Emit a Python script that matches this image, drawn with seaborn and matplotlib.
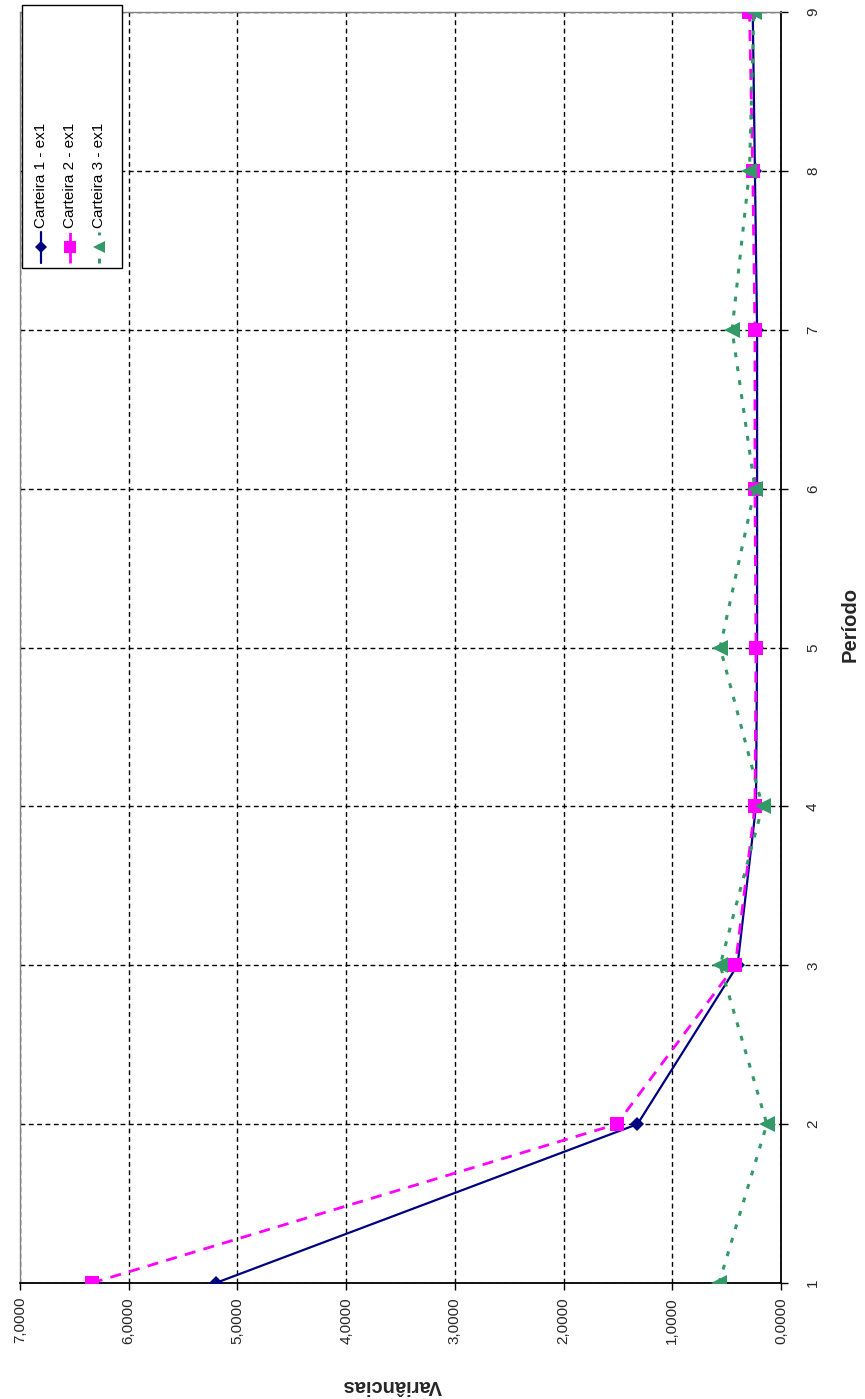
import matplotlib
matplotlib.use("Agg")
import matplotlib.pyplot as plt
import seaborn as sns
import pandas as pd
from matplotlib.ticker import FuncFormatter, MultipleLocator
from matplotlib.lines import Line2D
from matplotlib.patches import Rectangle

# ---- data ----
periodos = [1, 2, 3, 4, 5, 6, 7, 8, 9]
carteira1 = [5.20, 1.32, 0.40, 0.23, 0.22, 0.22, 0.22, 0.24, 0.26]
carteira2 = [6.34, 1.51, 0.42, 0.24, 0.23, 0.24, 0.24, 0.26, 0.29]
carteira3 = [0.57, 0.13, 0.56, 0.17, 0.56, 0.24, 0.45, 0.29, 0.25]
series_names = ["Carteira 1 - ex1", "Carteira 2 - ex1", "Carteira 3 - ex1"]
x_label = "Período"
y_label = "Variâncias"

sns.set_theme(style="white")
plt.rcParams["font.family"] = ["Liberation Sans", "DejaVu Sans"]

W, H = 865, 1399
fig = plt.figure(figsize=(W / 100, H / 100), dpi=100)
L, R, T, B = 20, 781, 12, 1283
ax = fig.add_axes([L / W, 1 - B / H, (R - L) / W, (B - T) / H])

styles = [
    dict(color="#000080", marker="D", markersize=7.5, linestyle="-", linewidth=1.6),
    dict(color="#FF00FF", marker="s", markersize=10, linestyle=(0, (4, 3)), linewidth=2),
    dict(color="#339966", marker="<", markersize=11, linestyle=(0, (1.6, 3)), linewidth=2.2),
]
for name, vals, st in zip(series_names, [carteira1, carteira2, carteira3], styles):
    df = pd.DataFrame({"var": vals, "per": periodos})
    sns.lineplot(data=df, x="var", y="per", estimator=None, sort=False, ax=ax,
                 markeredgewidth=0, zorder=3, **st)

ax.set_xlim(7, 0)
ax.set_ylim(1, 9)
ax.xaxis.set_major_locator(MultipleLocator(1))
ax.yaxis.set_major_locator(MultipleLocator(1))
ax.xaxis.set_major_formatter(FuncFormatter(lambda v, p: f"{v:.4f}".replace(".", ",")))
ax.grid(True, color="black", linestyle=(0, (3.5, 2.5)), linewidth=1)

ax.yaxis.tick_right()
ax.tick_params(axis="y", which="both", right=True, left=False, length=5, width=1,
               color="black", labelsize=11, labelrotation=90, pad=13)
ax.tick_params(axis="x", which="both", bottom=True, length=5, width=1,
               color="black", labelsize=11, labelrotation=90, pad=5)
for lab in ax.get_yticklabels():
    lab.set_va("center")

for s in ["left", "top"]:
    ax.spines[s].set_color("#808080")
    ax.spines[s].set_linewidth(1)
for s in ["right", "bottom"]:
    ax.spines[s].set_color("black")
    ax.spines[s].set_linewidth(1.3)

ax.set_xlabel(y_label, fontsize=14.5, fontweight="bold", rotation=180)
ax.xaxis.set_label_coords((392 - L) / (R - L), (H - 1385 - (H - B)) / (B - T))
ax.xaxis.label.set_va("center")
ax.yaxis.set_label_position("right")
ax.set_ylabel(x_label, fontsize=14.5, fontweight="bold", rotation=90)
ax.yaxis.set_label_coords((850 - L) / (R - L), (H - 625 - (H - B)) / (B - T))
ax.yaxis.label.set_va("center")
ax.yaxis.label.set_ha("center")

# ---- legend (rotated layout, top-left) ----
def fx(px):
    return px / W

def fy(py):
    return 1 - py / H

box = Rectangle((fx(22), fy(268)), fx(122) - fx(22), fy(5) - fy(268),
                transform=fig.transFigure, facecolor="white", edgecolor="black",
                linewidth=1, zorder=10)
fig.add_artist(box)
cols = [41, 70, 99]
for name, st, cx in zip(series_names, styles, cols):
    ln = Line2D([fx(cx), fx(cx)], [fy(263), fy(232)], transform=fig.transFigure,
                color=st["color"], linestyle=st["linestyle"], linewidth=st["linewidth"],
                zorder=11)
    fig.add_artist(ln)
    mk = Line2D([fx(cx)], [fy(247)], transform=fig.transFigure, color=st["color"],
                marker=st["marker"], markersize=st["markersize"] * 0.85,
                markeredgewidth=0, linestyle="none", zorder=12)
    fig.add_artist(mk)
    fig.text(fx(cx), fy(228), name, rotation=90, ha="center", va="bottom",
             fontsize=11, color="black", zorder=12)

fig.savefig("out.png", dpi=100)
